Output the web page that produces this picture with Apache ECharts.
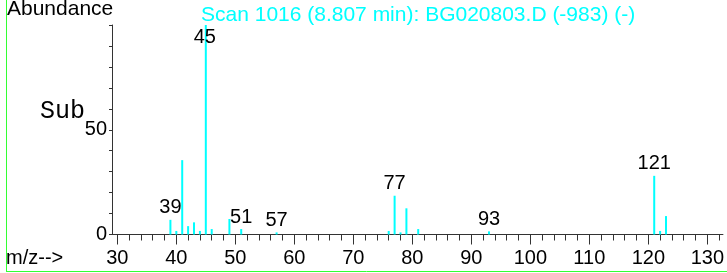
<!DOCTYPE html>
<html>
<head>
<meta charset="utf-8">
<script src="https://cdn.jsdelivr.net/npm/echarts@6/dist/echarts.min.js"></script>
<style>
  html, body { margin: 0; padding: 0; background: #fff; }
  #chart { width: 727px; height: 273px; }
</style>
</head>
<body>
<div id="chart"></div>
<script>
// m/z values and relative abundance
const mzValues = [39, 40, 41, 42, 43, 44, 45, 46, 49, 51, 57, 76, 77, 78, 79, 81, 93, 121, 122, 123]
const abundance = [7, 1.7, 35.5, 4, 5.8, 1.7, 100, 2.6, 7.4, 2.6, 1, 1.7, 18.5, 1, 12.5, 2.6, 1.5, 28, 1.7, 8.8]
const labeledMz = [39, 45, 51, 57, 77, 93, 121]
const xMajorTicks = [30, 40, 50, 60, 70, 80, 90, 100, 110, 120, 130]
const xMinorTicks = []
for (let v = 32; v <= 132; v += 2) xMinorTicks.push(v)
const yLabelValues = [0, 50]

const FONT = 'Liberation Sans, Arial, sans-serif'
const AXIS_COLOR = '#333'
const X_MIN = 29.1
const X_MAX = 132.65

const seriesData = mzValues.map((m, i) => {
  const item = { value: [m, abundance[i]] }
  if (labeledMz.includes(m)) {
    item.label = { show: true }
    // base peak label sits over the top of its line
    if (abundance[i] >= 100) item.label.offset = [-1, 24]
  }
  return item
})

const chart = echarts.init(document.getElementById('chart'))

const option = {
  animation: false,
  title: {
    text: 'Scan 1016 (8.807 min): BG020803.D (-983) (-)',
    left: 196,
    top: 0,
    textStyle: { color: '#00ffff', fontFamily: FONT, fontSize: 21, fontWeight: 'normal' }
  },
  grid: { left: 112, right: 2, top: 25, bottom: 38.5 },
  xAxis: [
    {
      type: 'value',
      min: X_MIN,
      max: X_MAX,
      position: 'bottom',
      axisLine: { show: true, lineStyle: { color: AXIS_COLOR, width: 1 } },
      axisTick: { show: true, length: 6, customValues: xMinorTicks, lineStyle: { color: AXIS_COLOR } },
      axisLabel: { show: false },
      splitLine: { show: false }
    },
    {
      type: 'value',
      min: X_MIN,
      max: X_MAX,
      position: 'bottom',
      axisLine: { show: false },
      axisTick: { show: true, length: 10, customValues: xMajorTicks, lineStyle: { color: AXIS_COLOR } },
      axisLabel: {
        show: true,
        customValues: xMajorTicks,
        margin: 14,
        color: '#000',
        fontFamily: FONT,
        fontSize: 20
      },
      splitLine: { show: false }
    }
  ],
  yAxis: {
    type: 'value',
    min: 0,
    max: 100,
    interval: 10,
    axisLine: { show: true, lineStyle: { color: AXIS_COLOR, width: 1 } },
    axisTick: { show: true, length: 3, lineStyle: { color: AXIS_COLOR } },
    axisLabel: {
      show: true,
      margin: 5,
      color: '#000',
      fontFamily: FONT,
      fontSize: 20,
      formatter: v => (yLabelValues.includes(v) ? String(v) : '')
    },
    splitLine: { show: false }
  },
  series: [
    {
      type: 'bar',
      xAxisIndex: 0,
      barWidth: 2,
      itemStyle: { color: '#00ffff' },
      label: {
        show: false,
        position: 'top',
        distance: 2,
        color: '#000',
        fontFamily: FONT,
        fontSize: 20,
        formatter: p => String(p.value[0])
      },
      data: seriesData
    }
  ],
  graphic: [
    {
      type: 'text',
      left: 7,
      top: -1,
      style: { text: 'Abundance', fill: '#000', font: '21px ' + FONT }
    },
    {
      type: 'text',
      left: 40,
      top: 99,
      style: { text: 'Sub', fill: '#000', font: '25px "Liberation Mono", "Courier New", monospace' }
    },
    {
      type: 'text',
      left: 6,
      top: 248,
      style: { text: 'm/z-->', fill: '#000', font: '20px ' + FONT }
    },
    {
      type: 'line',
      shape: { x1: 6.5, y1: 0, x2: 6.5, y2: 271.5 },
      style: { stroke: '#33ff33', lineWidth: 1 }
    },
    {
      type: 'line',
      shape: { x1: 6, y1: 271.5, x2: 727, y2: 271.5 },
      style: { stroke: '#33ff33', lineWidth: 1 }
    }
  ]
}

chart.setOption(option)
</script>
</body>
</html>
